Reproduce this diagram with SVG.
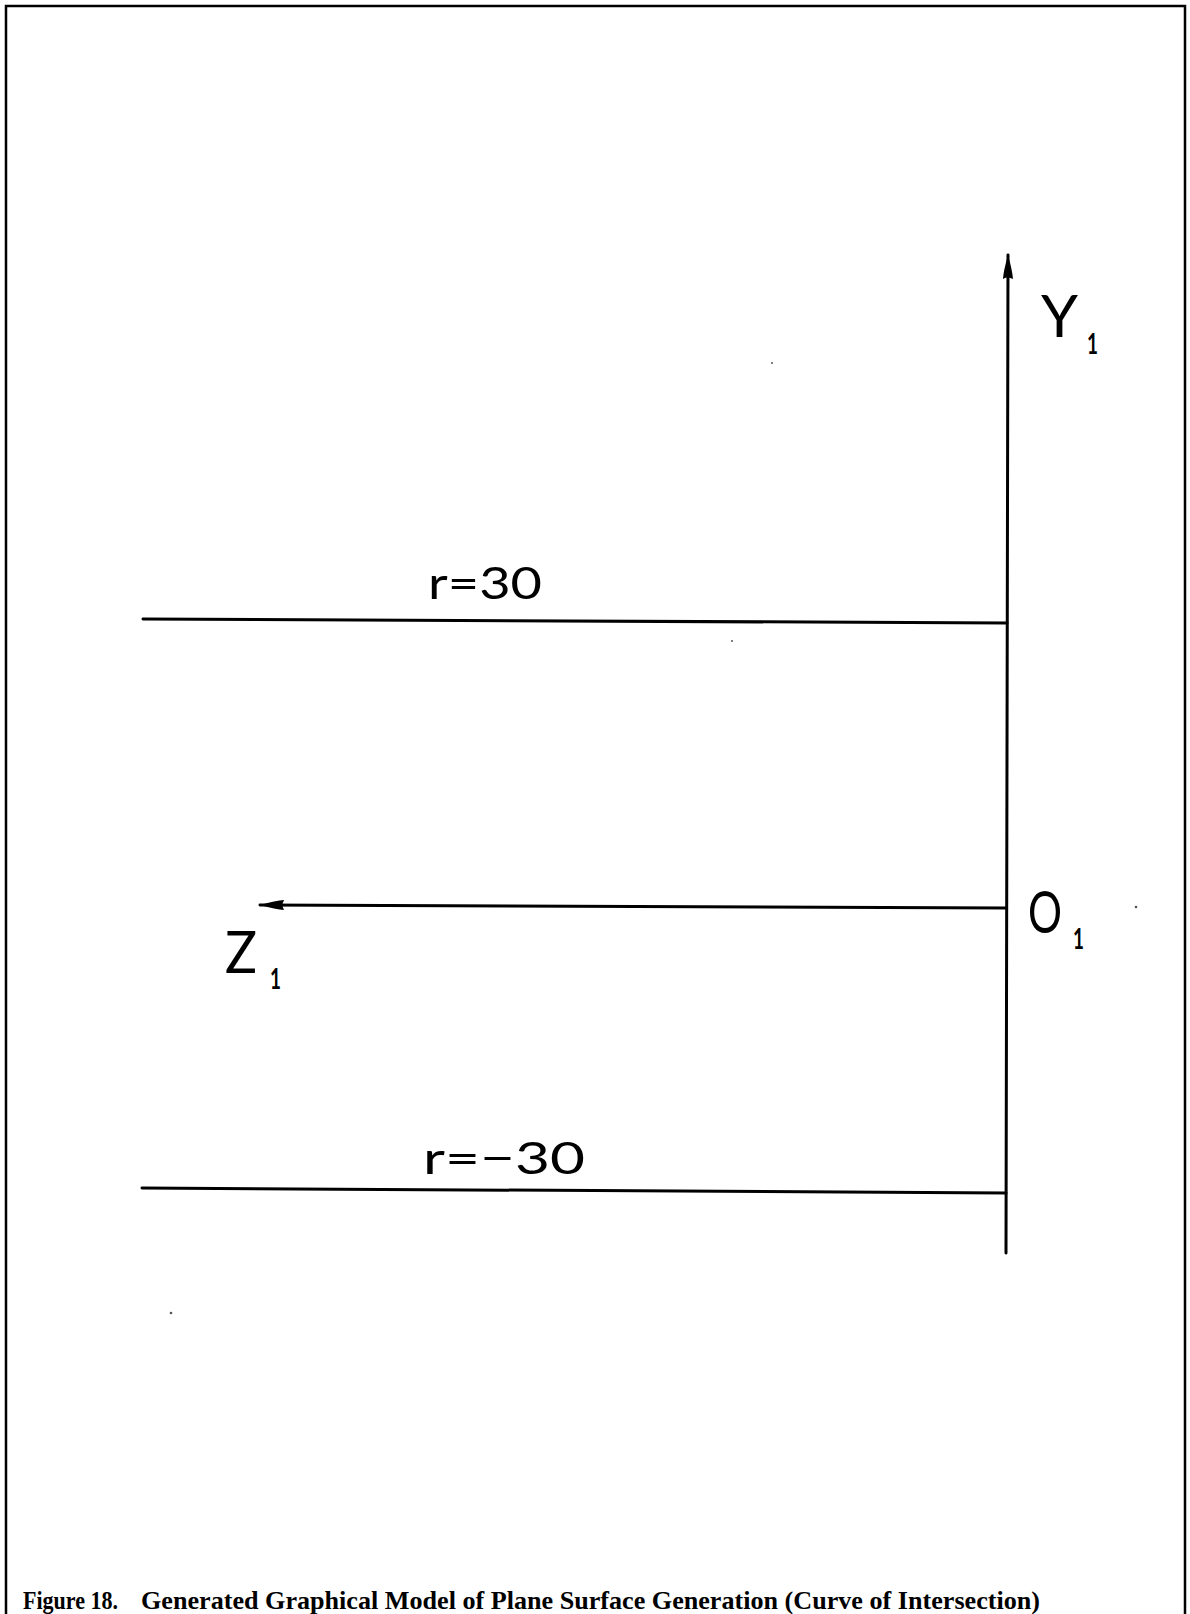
<svg xmlns="http://www.w3.org/2000/svg" width="1190" height="1614" viewBox="0 0 1190 1614">
  <defs>
    <style>
      .ln { stroke: #000; stroke-width: 3; fill: none; stroke-linecap: round; }
      .lbl { font-family: "Lato", "Liberation Sans", sans-serif; font-weight: 400; fill: #000; }
      .big { font-size: 58px; }
      .sub { font-size: 28px; font-weight: 700; }
      .rl { font-size: 45px; }
      .cap { font-family: "Liberation Serif", "Times New Roman", serif; font-weight: bold; font-size: 26px; fill: #000; }
      .dot { fill: #555; }
    </style>
    <marker id="arr" markerUnits="userSpaceOnUse" markerWidth="26" markerHeight="12" refX="24" refY="6" orient="auto">
      <path d="M0,1 Q8,1.5 24,6 Q8,10.5 0,11 Q3,6 0,1 z" fill="#000"/>
    </marker>
  </defs>
  <rect width="1190" height="1614" fill="#fff"/>
  <path d="M6,1620 L6,6 L1185,6 L1185,1620" stroke="#000" stroke-width="2.5" fill="none"/>

  <g id="connectors">
    <line id="y-axis" class="ln" x1="1006" y1="1253" x2="1008" y2="255" marker-end="url(#arr)"/>
    <line id="z-axis" class="ln" x1="1006" y1="908" x2="260" y2="905" marker-end="url(#arr)"/>
    <line id="r30-line" class="ln" x1="143" y1="619" x2="1007" y2="623"/>
    <line id="rm30-line" class="ln" x1="142" y1="1188" x2="1006" y2="1193"/>
  </g>

  <g id="label-Y1">
    <text class="lbl big" x="1041" y="337" textLength="37" lengthAdjust="spacingAndGlyphs">Y</text>
    <text class="lbl sub" x="1087" y="354" textLength="11" lengthAdjust="spacingAndGlyphs">1</text>
  </g>
  <g id="label-Z1">
    <text class="lbl big" x="225" y="973" textLength="32" lengthAdjust="spacingAndGlyphs">Z</text>
    <text class="lbl sub" x="270" y="989" textLength="11" lengthAdjust="spacingAndGlyphs">1</text>
  </g>
  <g id="label-O1">
    <text class="lbl big" x="1028" y="933" textLength="34" lengthAdjust="spacingAndGlyphs">O</text>
    <text class="lbl sub" x="1073" y="949" textLength="11" lengthAdjust="spacingAndGlyphs">1</text>
  </g>
  <g id="label-r30">
    <text class="lbl rl" x="428" y="599" textLength="114" lengthAdjust="spacingAndGlyphs">r=30</text>
  </g>
  <g id="label-rm30">
    <text class="lbl rl" x="423" y="1174" textLength="162" lengthAdjust="spacingAndGlyphs">r=−30</text>
  </g>

  <g id="specks">
    <circle class="dot" cx="772" cy="363" r="1"/>
    <circle class="dot" cx="732" cy="641" r="1"/>
    <circle class="dot" cx="1136" cy="907" r="1.3"/>
    <circle class="dot" cx="171" cy="1313" r="1.3"/>
  </g>

  <g id="caption">
    <text class="cap" x="23" y="1609" textLength="95" lengthAdjust="spacingAndGlyphs">Figure 18.</text>
    <text class="cap" x="141" y="1609" textLength="899" lengthAdjust="spacingAndGlyphs">Generated Graphical Model of Plane Surface Generation (Curve of Intersection)</text>
  </g>
</svg>
